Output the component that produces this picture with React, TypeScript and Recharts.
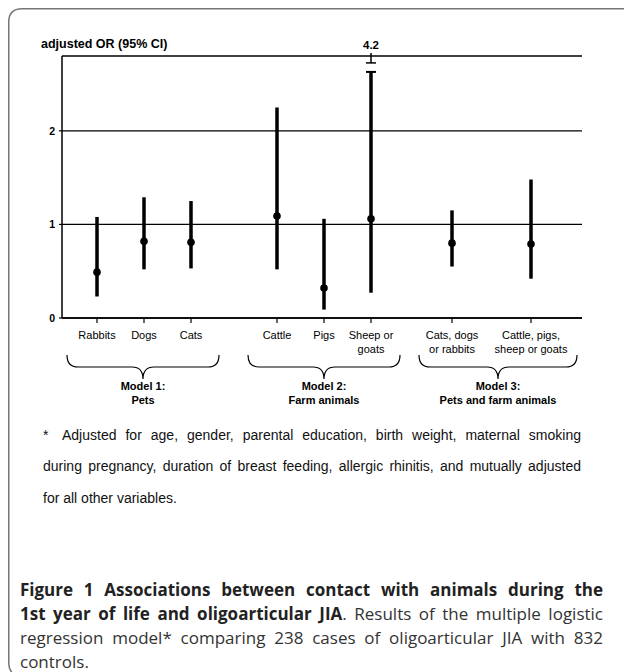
import React from 'react'
import { CartesianGrid, ErrorBar, Scatter, ScatterChart, XAxis, YAxis } from 'recharts'

// exposures, one per interval
const CATEGORY_LINES: string[][] = [
  ['Rabbits'],
  ['Dogs'],
  ['Cats'],
  ['Cattle'],
  ['Pigs'],
  ['Sheep or', 'goats'],
  ['Cats, dogs', 'or rabbits'],
  ['Cattle, pigs,', 'sheep or goats'],
]
const ODDS_RATIO = [0.49, 0.82, 0.81, 1.09, 0.32, 1.06, 0.8, 0.79]
const CI_LOWER = [0.23, 0.52, 0.53, 0.52, 0.09, 0.27, 0.55, 0.42]
const CI_UPPER = [1.08, 1.29, 1.25, 2.25, 1.06, 4.2, 1.15, 1.48]

const GROUP_LINES: string[][] = [
  ['Model 1:', 'Pets'],
  ['Model 2:', 'Farm animals'],
  ['Model 3:', 'Pets and farm animals'],
]

const Y_TICKS = [0, 1, 2]

// layout: x slot of each exposure along the axis (px-like units), brace centres and half widths
const SLOT = [35, 82, 129, 215, 262, 309, 390, 469]
const GROUP_SLOT = [81, 262, 436]
const GROUP_HALF = [76, 76, 79]
const Y_MAX = 2.8
const BREAK_AT = 2.63

const FONT = '"Liberation Sans", Arial, Helvetica, sans-serif'

const rows = ODDS_RATIO.map((or, i) => {
  const top = Math.min(CI_UPPER[i], BREAK_AT)
  return { x: SLOT[i], y: or, err: [or - CI_LOWER[i], top - or] }
})
const breaks = CI_UPPER.map((u, i) => ({ x: SLOT[i], y: BREAK_AT, label: String(u), over: u > BREAK_AT })).filter(
  b => b.over,
)
const groups = GROUP_LINES.map((lines, i) => ({ x: GROUP_SLOT[i], y: 0, lines, half: GROUP_HALF[i] }))

function CategoryTick(props: any) {
  const { x, y, payload } = props
  const idx = SLOT.indexOf(payload.value)
  const lines = CATEGORY_LINES[idx] ?? []
  return (
    <text x={x} y={y} textAnchor="middle" fontSize={11} fontFamily={FONT} fill="#000">
      {lines.map((l, i) => (
        <tspan key={i} x={x} dy={i === 0 ? 16 : 14}>
          {l}
        </tspan>
      ))}
    </text>
  )
}

function Dot(props: any) {
  const { cx, cy } = props
  return <circle cx={cx} cy={cy} r={3.8} fill="#000" />
}

function BreakMark(props: any) {
  const { cx, cy, payload } = props
  return (
    <g stroke="#000">
      <line x1={cx - 5} x2={cx + 5} y1={cy} y2={cy} strokeWidth={2} />
      <line x1={cx} x2={cx} y1={cy - 19} y2={cy - 9} strokeWidth={1.5} />
      <line x1={cx - 5} x2={cx + 5} y1={cy - 9} y2={cy - 9} strokeWidth={1.5} />
      <text x={cx} y={cy - 23} textAnchor="middle" fontSize={11.5} fontWeight="bold" fontFamily={FONT} fill="#000" stroke="none">
        {payload.label}
      </text>
    </g>
  )
}

function Brace(props: any) {
  const { cx, cy, payload } = props
  const h = payload.half
  const top = cy + 37
  const mid = cy + 49
  const tip = cy + 61
  const r = 11
  const d =
    `M${cx - h},${top} Q${cx - h},${mid} ${cx - h + r},${mid} L${cx - r},${mid} Q${cx},${mid} ${cx},${tip}` +
    ` Q${cx},${mid} ${cx + r},${mid} L${cx + h - r},${mid} Q${cx + h},${mid} ${cx + h},${top}`
  return (
    <g>
      <path d={d} fill="none" stroke="#000" strokeWidth={1.2} />
      <text x={cx} y={cy + 72} textAnchor="middle" fontSize={11} fontWeight="bold" fontFamily={FONT} fill="#000">
        {payload.lines.map((l: string, i: number) => (
          <tspan key={i} x={cx} dy={i === 0 ? 0 : 14}>
            {l}
          </tspan>
        ))}
      </text>
    </g>
  )
}

const noteBase: React.CSSProperties = {
  position: 'absolute',
  fontFamily: FONT,
  fontSize: 14,
  lineHeight: '20px',
  color: '#111',
  whiteSpace: 'nowrap',
}

const captionBase: React.CSSProperties = {
  position: 'absolute',
  left: 20,
  width: 583,
  fontFamily: '"Open Sans", "Noto Sans", sans-serif',
  fontSize: 17,
  lineHeight: '24px',
  color: '#333',
  whiteSpace: 'nowrap',
}

export default function App() {
  return (
    <div style={{ position: 'fixed', left: 0, top: 0, width: 624, height: 672, overflow: 'hidden', background: '#fff' }}>
      {/* panel frame: open on the right, as in the cropped figure */}
      <svg width={624} height={672} style={{ position: 'absolute', left: 0, top: 0 }}>
        <path
          d="M624,8.75 L22,8.75 Q8.75,8.75 8.75,22 L8.75,662 Q8.75,675 20,676"
          fill="none"
          stroke="#777"
          strokeWidth={1.5}
        />
      </svg>
      <div
        style={{
          position: 'absolute',
          left: 41,
          top: 37,
          fontFamily: FONT,
          fontSize: 12.5,
          fontWeight: 'bold',
          color: '#000',
          whiteSpace: 'nowrap',
        }}
      >
        adjusted OR (95% CI)
      </div>
      <div style={{ position: 'absolute', left: 0, top: 0 }}>
        <ScatterChart width={624} height={430} margin={{ top: 56, right: 42, bottom: 82, left: 32 }}>
          <CartesianGrid vertical={false} stroke="#000" strokeWidth={1.3} />
          <XAxis
            type="number"
            dataKey="x"
            domain={[0, 520]}
            ticks={SLOT}
            interval={0}
            height={30}
            tick={<CategoryTick />}
            tickSize={5}
            tickMargin={0}
            axisLine={{ stroke: '#000', strokeWidth: 1.5 }}
            tickLine={{ stroke: '#000', strokeWidth: 1.2 }}
          />
          <YAxis
            type="number"
            dataKey="y"
            domain={[0, Y_MAX]}
            ticks={Y_TICKS}
            width={30}
            tickSize={3}
            tickMargin={4}
            tick={{ fontSize: 10.5, fontWeight: 'bold', fill: '#000', fontFamily: FONT }}
            axisLine={{ stroke: '#000', strokeWidth: 1.5 }}
            tickLine={{ stroke: '#000', strokeWidth: 1.2 }}
          />
          <Scatter data={rows} shape={<Dot />} isAnimationActive={false}>
            <ErrorBar dataKey="err" direction="y" width={0} stroke="#000" strokeWidth={3.5} isAnimationActive={false} />
          </Scatter>
          <Scatter data={breaks} shape={<BreakMark />} isAnimationActive={false} />
          <Scatter data={groups} shape={<Brace />} isAnimationActive={false} />
        </ScatterChart>
      </div>

      <div style={{ ...noteBase, left: 43, top: 425 }}>*</div>
      <div style={{ ...noteBase, left: 62, top: 425, width: 519, textAlign: 'justify', textAlignLast: 'justify' }}>
        Adjusted for age, gender, parental education, birth weight, maternal smoking
      </div>
      <div style={{ ...noteBase, left: 43, top: 456, width: 538, textAlign: 'justify', textAlignLast: 'justify' }}>
        during pregnancy, duration of breast feeding, allergic rhinitis, and mutually adjusted
      </div>
      <div style={{ ...noteBase, left: 43, top: 488 }}>for all other variables.</div>

      <div style={{ ...captionBase, top: 578, textAlignLast: 'justify', color: '#222', fontWeight: 'bold' }}>
        Figure 1 Associations between contact with animals during the
      </div>
      <div style={{ ...captionBase, top: 602, textAlignLast: 'justify' }}>
        <b style={{ color: '#222' }}>1st year of life and oligoarticular JIA</b>. Results of the multiple logistic
      </div>
      <div style={{ ...captionBase, top: 626, textAlignLast: 'justify' }}>
        regression model* comparing 238 cases of oligoarticular JIA with 832
      </div>
      <div style={{ ...captionBase, top: 650 }}>controls.</div>
    </div>
  )
}
